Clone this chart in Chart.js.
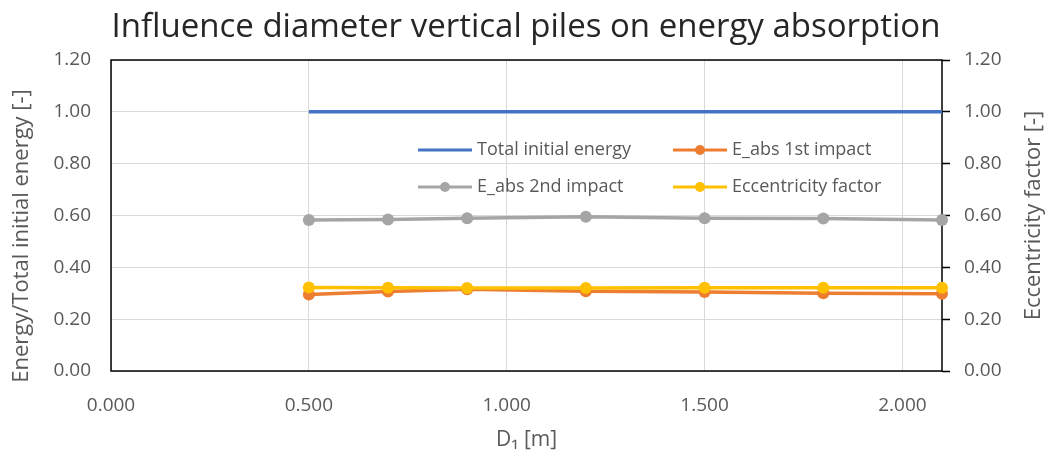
<!DOCTYPE html>
<html>
<head>
<meta charset="utf-8">
<script src="https://cdn.jsdelivr.net/npm/chart.js@4"></script>
<style>
  html, body { margin: 0; padding: 0; background: #ffffff; }
  #wrap { width: 1052px; height: 461px; }
</style>
</head>
<body>
<div id="wrap"><canvas id="chart" width="1052" height="461"></canvas></div>
<script>
// Pile diameter D1 [m]
const diameters = [0.5, 0.7, 0.9, 1.2, 1.5, 1.8, 2.1];
// Energies normalised by the total initial energy [-]
const totalInitialEnergy = [1.0, 1.0, 1.0, 1.0, 1.0, 1.0, 1.0];
const eAbs1stImpact = [0.295, 0.307, 0.315, 0.308, 0.305, 0.300, 0.298];
const eAbs2ndImpact = [0.583, 0.585, 0.589, 0.595, 0.589, 0.588, 0.583];
// Eccentricity factor [-] (secondary axis)
const eccentricityFactor = [0.322, 0.321, 0.320, 0.320, 0.321, 0.321, 0.321];

const seriesNames = ['Total initial energy', 'E_abs 1st impact', 'E_abs 2nd impact', 'Eccentricity factor'];
const seriesColors = ['#4472C4', '#ED7D31', '#A5A5A5', '#FFC000'];
const leftAxisTitle = 'Energy/Total initial energy [-]';
const rightAxisTitle = 'Eccentricity factor [-]';

const FONT = "'Open Sans', 'Noto Sans', sans-serif";
const TEXT = '#595959';

const toPoints = ys => diameters.map((x, i) => ({ x: x, y: ys[i] }));

function series(idx, ys, axis, withMarkers, order) {
  return {
    label: seriesNames[idx],
    data: toPoints(ys),
    yAxisID: axis,
    borderColor: seriesColors[idx],
    backgroundColor: seriesColors[idx],
    borderWidth: 3.5,
    pointRadius: withMarkers ? 6 : 0,
    pointHoverRadius: withMarkers ? 6 : 0,
    pointBorderWidth: 0,
    tension: 0,
    clip: false,
    order: order
  };
}

// Frame around the plotting area
const frame = {
  id: 'frame',
  beforeDatasetsDraw(chart) {
    const a = chart.chartArea, c = chart.ctx;
    c.save();
    c.strokeStyle = '#000000';
    c.lineWidth = 1.5;
    c.strokeRect(a.left, a.top, a.right - a.left, a.bottom - a.top);
    c.restore();
  }
};

// Vertical axis titles, both reading bottom to top
const axisTitles = {
  id: 'axisTitles',
  afterDraw(chart) {
    const c = chart.ctx;
    const draw = (text, x, y) => {
      c.save();
      c.translate(x, y);
      c.rotate(-Math.PI / 2);
      c.font = '22px ' + FONT;
      c.fillStyle = TEXT;
      c.textAlign = 'center';
      c.textBaseline = 'middle';
      c.fillText(text, 0, 0);
      c.restore();
    };
    const a = chart.chartArea;
    draw(leftAxisTitle, 22, 236);
    draw(rightAxisTitle, 1034, (a.top + a.bottom) / 2);
  }
};

// Two-column legend placed inside the plotting area
const innerLegend = {
  id: 'innerLegend',
  afterDatasetsDraw(chart) {
    const c = chart.ctx;
    const cols = [418, 673];
    const rows = [150, 187];
    const lineLen = 54;
    c.save();
    c.font = '18px ' + FONT;
    c.textBaseline = 'middle';
    c.textAlign = 'left';
    seriesNames.forEach((name, i) => {
      const x = cols[i % 2], y = rows[Math.floor(i / 2)];
      c.strokeStyle = seriesColors[i];
      c.lineWidth = 3;
      c.beginPath();
      c.moveTo(x, y);
      c.lineTo(x + lineLen, y);
      c.stroke();
      if (i > 0) {
        c.fillStyle = seriesColors[i];
        c.beginPath();
        c.arc(x + lineLen / 2, y, 5, 0, Math.PI * 2);
        c.fill();
      }
      c.fillStyle = TEXT;
      c.fillText(name, x + lineLen + 5, y);
    });
    c.restore();
  }
};

new Chart(document.getElementById('chart'), {
  type: 'line',
  data: {
    datasets: [
      series(0, totalInitialEnergy, 'y', false, 3),
      series(1, eAbs1stImpact, 'y', true, 2),
      series(2, eAbs2ndImpact, 'y', true, 1),
      series(3, eccentricityFactor, 'y2', true, 0)
    ]
  },
  options: {
    responsive: false,
    animation: false,
    layout: { padding: 0 },
    plugins: {
      legend: { display: false },
      tooltip: { enabled: false },
      title: {
        display: true,
        text: 'Influence diameter vertical piles on energy absorption',
        color: '#262626',
        font: { family: FONT, size: 33, weight: 'normal', lineHeight: 1.2 },
        padding: { top: 8, bottom: 12.4 }
      }
    },
    scales: {
      x: {
        type: 'linear',
        min: 0,
        max: 2.1,
        afterFit(s) { s.height = 90; },
        ticks: {
          stepSize: 0.5,
          includeBounds: false,
          color: TEXT,
          padding: 23,
          maxRotation: 0,
          font: { family: FONT, size: 19 },
          callback: v => Number(v).toFixed(3)
        },
        grid: { color: '#D9D9D9', lineWidth: 1, drawTicks: false },
        border: { display: false },
        title: {
          display: true,
          text: 'D₁ [m]',
          color: TEXT,
          font: { family: FONT, size: 21 },
          padding: { top: 0, bottom: 8 }
        }
      },
      y: {
        position: 'left',
        min: 0,
        max: 1.2,
        afterFit(s) { s.width = 111; },
        ticks: {
          stepSize: 0.2,
          color: TEXT,
          padding: 20,
          font: { family: FONT, size: 19 },
          callback: v => Number(v).toFixed(2)
        },
        grid: { color: '#D9D9D9', lineWidth: 1, drawTicks: false },
        border: { display: false },
        title: { display: false }
      },
      y2: {
        position: 'right',
        min: 0,
        max: 1.2,
        afterFit(s) { s.width = 110; },
        ticks: {
          stepSize: 0.2,
          color: TEXT,
          padding: 14,
          font: { family: FONT, size: 19 },
          callback: v => Number(v).toFixed(2)
        },
        grid: { drawOnChartArea: false, drawTicks: true, tickLength: 8, tickColor: '#000000', tickWidth: 1.5 },
        border: { display: false },
        title: { display: false }
      }
    }
  },
  plugins: [frame, innerLegend, axisTitles]
});
</script>
</body>
</html>
